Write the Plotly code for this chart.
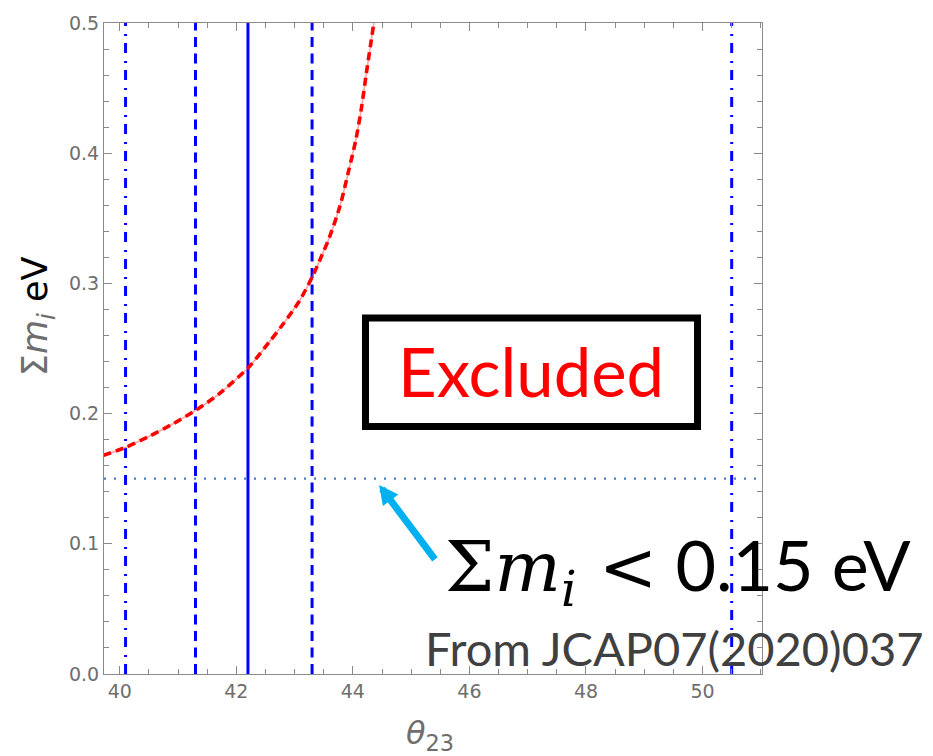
import plotly.graph_objects as go

# ---- data ----
theta_best = [42.2]
theta_1sigma = [41.3, 43.3]
theta_3sigma = [40.1, 50.5]
sum_bound = 0.15

curve_theta = [39.72, 40.10, 40.50, 40.90, 41.32, 41.70, 42.22, 42.56, 42.80,
               43.08, 43.32, 43.47, 43.59, 43.78, 43.92, 44.05, 44.15, 44.23, 44.30, 44.36]
curve_sum = [0.168, 0.174, 0.1824, 0.1918, 0.203, 0.215, 0.236, 0.2547, 0.2686,
             0.2863, 0.3065, 0.3217, 0.3344, 0.3596, 0.385, 0.410, 0.4355, 0.461, 0.482, 0.500]

x_range = [39.73, 51.02]
y_range = [0.0, 0.5]
x_tickvals = [40, 42, 44, 46, 48, 50]
y_tickvals = [0.0, 0.1, 0.2, 0.3, 0.4, 0.5]
y_ticktext = ["0.0", "0.1", "0.2", "0.3", "0.4", "0.5"]

BLUE = "#0000ff"
GRAY = "#6e6e6e"
FRAME = "#8a8a8a"

fig = go.Figure()

# horizontal bound line
fig.add_trace(go.Scatter(x=x_range, y=[sum_bound, sum_bound], mode="lines",
                         line=dict(color="#4f7bbf", width=2.2, dash="2px,8px"),
                         hoverinfo="skip", showlegend=False))
# vertical lines
for v in theta_3sigma:
    fig.add_trace(go.Scatter(x=[v, v], y=y_range, mode="lines",
                             line=dict(color=BLUE, width=3, dash="10px,7px,2px,8px"),
                             showlegend=False))
for v in theta_1sigma:
    fig.add_trace(go.Scatter(x=[v, v], y=y_range, mode="lines",
                             line=dict(color=BLUE, width=3, dash="10px,6.5px"),
                             showlegend=False))
for v in theta_best:
    fig.add_trace(go.Scatter(x=[v, v], y=y_range, mode="lines",
                             line=dict(color=BLUE, width=3),
                             showlegend=False))
# red curve: light solid underlay + dashed
fig.add_trace(go.Scatter(x=curve_theta, y=curve_sum, mode="lines",
                         line=dict(color="rgba(255,90,90,0.55)", width=1.6, shape="spline", smoothing=0.8),
                         showlegend=False))
fig.add_trace(go.Scatter(x=curve_theta, y=curve_sum, mode="lines",
                         line=dict(color="#ff0000", width=3.6, dash="8px,5px", shape="spline", smoothing=0.8),
                         showlegend=False))

axis_common = dict(showgrid=False, zeroline=False, showline=True, linecolor=FRAME,
                   linewidth=1.2, mirror="ticks", ticks="inside", tickcolor=FRAME,
                   ticklen=8, tickwidth=1, ticklabeloverflow="allow",
                   tickfont=dict(family="DejaVu Sans", size=19, color=GRAY))

fig.update_xaxes(range=x_range, tickvals=x_tickvals, **axis_common,
                 minor=dict(dtick=0.5, tick0=40, ticks="inside", ticklen=4.5,
                            tickcolor=FRAME, tickwidth=1))
fig.update_yaxes(range=y_range, tickvals=y_tickvals, ticktext=y_ticktext, **axis_common,
                 minor=dict(dtick=0.02, tick0=0, ticks="inside", ticklen=4.5,
                            tickcolor=FRAME, tickwidth=1))

# Excluded box
fig.add_shape(type="rect", xref="paper", yref="paper", x0=0.3974, x1=0.902, y0=0.380, y1=0.547,
              line=dict(color="black", width=7), fillcolor="rgba(0,0,0,0)")

annotations = [
    dict(text="Excluded", xref="paper", yref="paper", x=0.649, y=0.465,
         xanchor="center", yanchor="middle", showarrow=False,
         font=dict(family="Lato", size=67, color="#ff0000")),
    # arrow
    dict(text="", x=44.45, y=0.1452, xref="x", yref="y", ax=57, ay=76,
         showarrow=True, arrowhead=2, arrowsize=0.55, arrowwidth=7, arrowcolor="#00b0f0"),
    dict(text="<span style='font-family:DejaVu Serif'>Σ<i>m</i><sub><i>i</i></sub> &lt;</span> 0.15 eV",
         xref="paper", yref="paper", x=0.515, y=0.16, xanchor="left", yanchor="middle",
         showarrow=False, font=dict(family="Lato", size=70, color="black")),
    dict(text="From JCAP07(2020)037", xref="paper", yref="paper", x=0.485, y=0.04,
         xanchor="left", yanchor="middle", showarrow=False,
         font=dict(family="Lato", size=47, color="#404040")),
    # axis titles
    dict(text="<i>θ</i><sub>23</sub>", xref="paper", yref="paper", x=0.4954, y=-0.093,
         xanchor="center", yanchor="middle", showarrow=False,
         font=dict(family="DejaVu Sans", size=32, color=GRAY)),
    dict(text="Σ<i>m</i><sub><i>i</i></sub> <span style='color:black'>eV</span>",
         xref="paper", yref="paper", x=-0.100, y=0.55, textangle=-90,
         xanchor="center", yanchor="middle", showarrow=False,
         font=dict(family="DejaVu Sans", size=35, color=GRAY)),
]

fig.update_layout(width=933, height=756, autosize=False,
                  margin=dict(l=104, r=171, t=15, b=82),
                  paper_bgcolor="white", plot_bgcolor="white",
                  showlegend=False, annotations=annotations)

fig.write_html("out.html", config={"displayModeBar": False},
               post_script="document.body.style.margin='0px';")
